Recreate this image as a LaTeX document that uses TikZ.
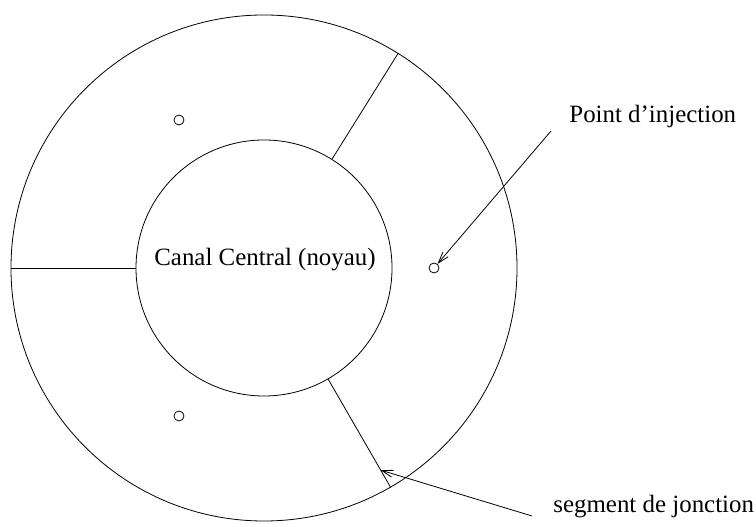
\documentclass[tikz,border=0pt]{standalone}
\usepackage{fontspec}
\setmainfont{Liberation Serif}
\usetikzlibrary{arrows.meta}
\begin{document}
\begin{tikzpicture}[x=1bp,y=1bp,line width=0.8bp,
  disc/.style={circle,draw,inner sep=0pt},
  hole/.style={circle,draw,inner sep=0pt,minimum size=10bp},
  txt/.style={inner sep=0pt,font=\fontsize{25}{30}\selectfont},
  pointer/.style={-{Straight Barb[length=11bp,width=7bp]}}]
  \useasboundingbox (0,0) rectangle (756,527);
  % tube and core
  \node (ring) at (264,259) [disc,minimum size=506bp] {};
  \node (core) at (264,259) [disc,minimum size=256bp] {};
  \node (name) at (265,261) [txt,anchor=base] {Canal Central (noyau)};
  % joints between segments
  \draw (core.180) -- (ring.180);
  \draw (core.58) -- (ring.58);
  \draw (core.-60) -- (ring.-60) coordinate[pos=0.84] (joint);
  % injection points
  \node (h1) at (179,407) [hole] {};
  \node (h2) at (434,259) [hole] {};
  \node (h3) at (179,111) [hole] {};
  \node (inj) at (569,404) [txt,anchor=base west] {Point d'injection};
  \node (seg) at (553,14) [txt,anchor=base west] {segment de jonction};
  \coordinate (from1) at (551,396);
  \coordinate (from2) at (532,11);
  \draw[pointer] (from1) -- (h2);
  \draw[pointer] (from2) -- (joint);
\end{tikzpicture}
\end{document}
